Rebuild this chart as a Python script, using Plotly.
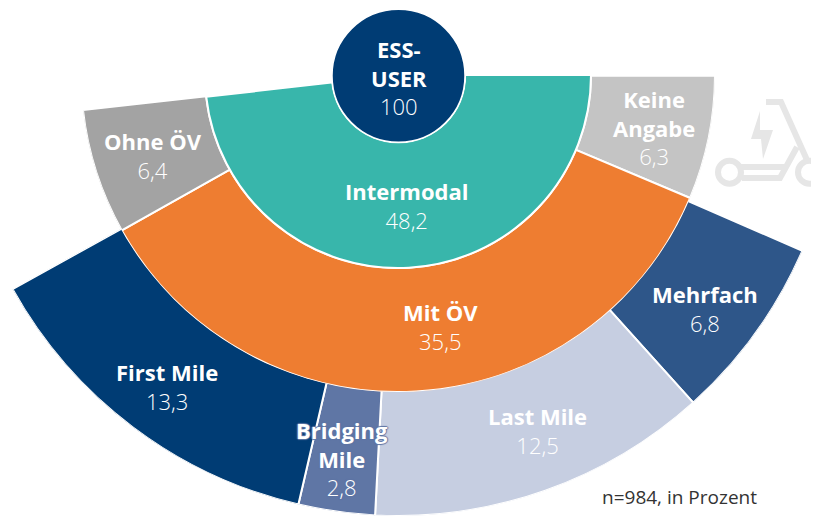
import math
import plotly.graph_objects as go

# ---- data (percent of ESS users) ----
center_label = "ESS-<br>USER"
center_value = 100
mid_labels = ["Intermodal"]
mid_values = [48.2]
ring_labels = ["Keine<br>Angabe", "Mit ÖV", "Ohne ÖV"]
ring_values = [6.3, 35.5, 6.4]
outer_labels = ["Mehrfach", "Last Mile", "Bridging<br>Mile", "First Mile"]
outer_values = [6.8, 12.5, 2.8, 13.3]
note = "n=984, in Prozent"

# ---- styling ----
mid_colors = ["#38B6AB"]
ring_colors = ["#C4C4C4", "#EE7D31", "#A3A3A3"]
outer_colors = ["#2E5689", "#C6CEE1", "#5F76A5", "#003C74"]
center_color = "#003C74"
icon_color = "#E6E6E6"
FONT = "Open Sans"
FS = 22
PAGE = 8                 # the browser's default body margin
W, H = 819 - PAGE, 516 - PAGE
CX, CY = 398 - PAGE, 75 - PAGE
CIRCLE_CX, CIRCLE_CY = 398.5 - PAGE, 75.5 - PAGE
R_CIRCLE, R_MID, R_RING, R_OUTER = 67, 193, 317, 441
DEG = 3.6      # 100 % = full turn
RING_START = 0.15   # degrees; slight turn of the rings seen in the picture
OUTER_START = 23.5


def spans(values, start):
    """Centre angle and width of consecutive sectors, clockwise from start."""
    th, wd, a = [], [], start
    for v in values:
        th.append(a + v * DEG / 2)
        wd.append(v * DEG)
        a += v * DEG
    return th, wd


def clamp(v):
    return max(0.0, min(1.0, v))


def domain(radius, s0, s1):
    """Plot-fraction domain that puts the sector's apex at (CX, CY)."""
    c0, c1 = math.cos(math.radians(s0)), math.cos(math.radians(s1))
    xmin = -1 if s0 <= 180 <= s1 else min(c0, c1)
    xmax = 1 if s0 <= 0 or s1 >= 360 else max(c0, c1)
    return dict(
        x=[clamp((CX + radius * xmin) / W), clamp((CX + radius * xmax) / W)],
        y=[clamp(1 - (CY + radius) / H), clamp(1 - CY / H)],
    )


def polar(radius, s0, s1):
    return dict(
        domain=domain(radius, s0, s1),
        sector=[s0, s1],
        bgcolor="rgba(0,0,0,0)",
        radialaxis=dict(visible=False, range=[0, radius]),
        angularaxis=dict(visible=False, direction="clockwise", rotation=0),
    )


fig = go.Figure()

# outer ring
th, wd = spans(outer_values, OUTER_START)
fig.add_trace(go.Barpolar(
    theta=th, width=wd, r=[R_OUTER - R_RING + 20] * len(th), base=R_RING - 20,
    marker=dict(color=outer_colors, line=dict(color="white", width=2)),
    subplot="polar", hovertext=outer_labels, hoverinfo="text",
))

# ring of three
th, wd = spans(ring_values, RING_START)
fig.add_trace(go.Barpolar(
    theta=th, width=wd, r=[R_RING - R_MID] * len(th), base=R_MID,
    marker=dict(color=ring_colors, line=dict(color="white", width=2)),
    subplot="polar2", hovertext=ring_labels, hoverinfo="text",
))

# intermodal ring
th, wd = spans(mid_values, 0)
fig.add_trace(go.Barpolar(
    theta=th, width=wd, r=[R_MID], base=0,
    marker=dict(color=mid_colors, line=dict(color="white", width=2)),
    subplot="polar2", hovertext=mid_labels, hoverinfo="text",
))

# centre disc
fig.add_trace(go.Barpolar(
    theta=[180], width=[center_value * DEG], r=[R_CIRCLE], base=0,
    marker=dict(color=center_color, line=dict(color="white", width=2)),
    subplot="polar3", hoverinfo="skip",
))


def label(px, py, name, value, shadow=None):
    font = dict(family=FONT, size=FS, color="white")
    if shadow:
        font["shadow"] = shadow
    val = str(value).replace(".", ",")
    return dict(
        x=(px - PAGE) / W, y=1 - (py - PAGE) / H, xref="paper", yref="paper",
        xanchor="center", yanchor="middle", showarrow=False, align="center",
        text=f'<b>{name}</b><br><span style="font-weight:300">{val}</span>',
        font=font,
    )


halo = "1px 0 1px #5F76A5, -1px 0 1px #5F76A5, 0 1px 1px #5F76A5, 0 -1px 1px #5F76A5"
annotations = [
    label(399, 78, center_label, center_value),
    label(406, 205.5, mid_labels[0], mid_values[0]),
    label(654, 127.5, ring_labels[0], ring_values[0]),
    label(440, 326.5, ring_labels[1], ring_values[1]),
    label(153, 156, ring_labels[2], ring_values[2]),
    label(705, 308, outer_labels[0], outer_values[0]),
    label(537, 430, outer_labels[1], outer_values[1]),
    label(342, 458, outer_labels[2], outer_values[2], shadow=halo),
    label(167, 386, outer_labels[3], outer_values[3]),
    dict(x=(679 - PAGE) / W, y=1 - (497 - PAGE) / H, xref="paper", yref="paper",
         xanchor="center", yanchor="middle", showarrow=False, text=note,
         font=dict(family=FONT, size=19, color="#333333")),
]


# e-scooter pictogram (decorative, positioned in window pixels)
def P(x, y):
    return f"{(x - PAGE) / W:.5f} {1 - (y - PAGE) / H:.5f}"


def path(points, close=False):
    d = "M " + " L ".join(P(x, y) for x, y in points)
    return d + (" Z" if close else "")


icon_line = dict(color=icon_color, width=6)
shapes = []
for pts in [
    [(766, 102), (781, 102), (807, 160)],                      # handle and stem
    [(797, 147), (780, 178), (742, 178)],                      # strut to deck
    [(740, 167), (784, 167)],                                  # deck top
]:
    shapes.append(dict(type="path", xref="paper", yref="paper", path=path(pts),
                       line=icon_line, layer="below"))
shapes.append(dict(type="path", xref="paper", yref="paper", fillcolor=icon_color,
                   line=dict(width=0), layer="below",
                   path=path([(760, 111), (751, 139), (761, 139), (763, 159),
                              (773, 130), (760, 130)], close=True)))
for wx in (729.5, 809.5):
    shapes.append(dict(type="circle", xref="paper", yref="paper",
                       x0=(wx - PAGE - 11.5) / W, x1=(wx - PAGE + 11.5) / W,
                       y0=1 - (172.3 - PAGE + 11.5) / H, y1=1 - (172.3 - PAGE - 11.5) / H,
                       line=icon_line, layer="below"))

fig.update_layout(
    width=W, height=H, autosize=False,
    margin=dict(l=0, r=0, t=0, b=0, pad=0),
    paper_bgcolor="white", showlegend=False,
    polar=polar(R_OUTER, 209, 338),
    polar2=polar(R_RING, 180, 360),
    polar3=polar(R_CIRCLE + 1, 0, 360),
    annotations=annotations, shapes=shapes,
)
fig.layout.polar3.domain = dict(
    x=[clamp((CIRCLE_CX - R_CIRCLE - 1) / W), clamp((CIRCLE_CX + R_CIRCLE + 1) / W)],
    y=[clamp(1 - (CIRCLE_CY + R_CIRCLE + 1) / H), clamp(1 - (CIRCLE_CY - R_CIRCLE - 1) / H)],
)

fig.write_html("out.html")
